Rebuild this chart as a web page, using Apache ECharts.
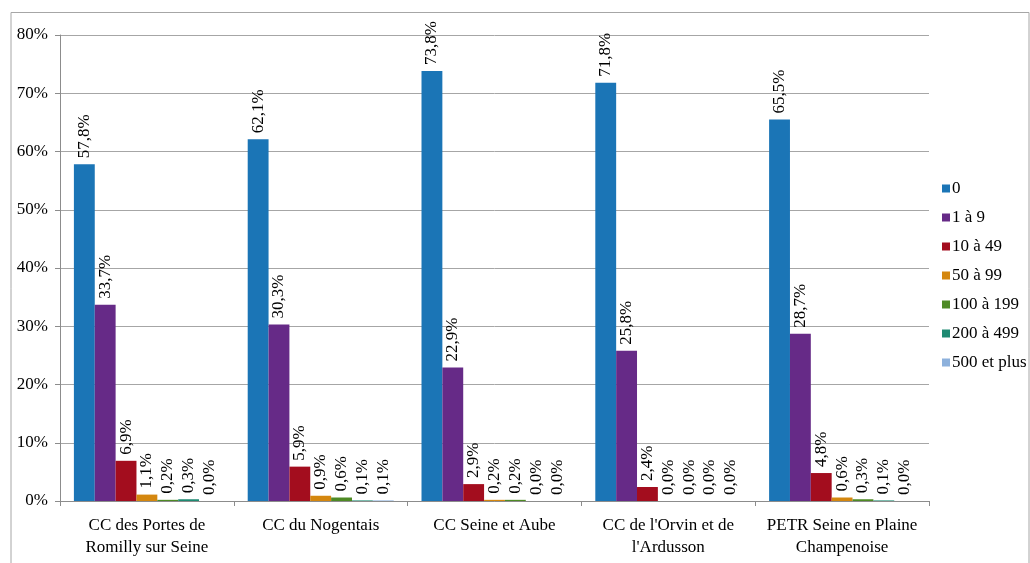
<!DOCTYPE html>
<html>
<head>
<meta charset="utf-8">
<script src="https://cdn.jsdelivr.net/npm/echarts@6/dist/echarts.min.js"></script>
<style>html,body{margin:0;padding:0;background:#fff;}#c{width:1030px;height:563px;}</style>
</head>
<body>
<div id="c"></div>
<script>
const categories = ["CC des Portes de\nRomilly sur Seine", "CC du Nogentais", "CC Seine et Aube", "CC de l'Orvin et de\nl'Ardusson", "PETR Seine en Plaine\nChampenoise"];
const seriesNames = ["0", "1 à 9", "10 à 49", "50 à 99", "100 à 199", "200 à 499", "500 et plus"];
const s0 = [57.8, 62.1, 73.8, 71.8, 65.5];
const s1to9 = [33.7, 30.3, 22.9, 25.8, 28.7];
const s10to49 = [6.9, 5.9, 2.9, 2.4, 4.8];
const s50to99 = [1.1, 0.9, 0.2, 0.0, 0.6];
const s100to199 = [0.2, 0.6, 0.2, 0.0, 0.3];
const s200to499 = [0.3, 0.1, 0.0, 0.0, 0.1];
const s500plus = [0.0, 0.1, 0.0, 0.0, 0.0];
const yTicks = [0, 10, 20, 30, 40, 50, 60, 70, 80];

const seriesValues = [s0, s1to9, s10to49, s50to99, s100to199, s200to499, s500plus];
const colors = ['#1B75B6', '#662A87', '#A30D1E', '#D4870F', '#4E8A25', '#1E8A72', '#8DB1DC'];
const font = 'Liberation Serif';

const chart = echarts.init(document.getElementById('c'), null, {renderer: 'canvas'});
chart.setOption({
  animation: false,
  color: colors,
  textStyle: {fontFamily: font, color: '#000'},
  graphic: [{
    type: 'polyline',
    shape: {points: [[11, 600], [11, 12.5], [1029, 12.5], [1029, 600]]},
    style: {stroke: '#a6a6a6', lineWidth: 1, fill: null},
    silent: true
  }],
  grid: {left: 60, right: 101, top: 35, bottom: 62, containLabel: false},
  legend: {
    orient: 'vertical',
    left: 937,
    top: 175,
    itemWidth: 8,
    itemHeight: 8,
    itemGap: 12,
    icon: 'rect',
    textStyle: {fontFamily: font, fontSize: 17, color: '#000', padding: [0, 0, 0, -3]},
    data: seriesNames
  },
  xAxis: {
    type: 'category',
    data: categories,
    axisLine: {lineStyle: {color: '#8c8c8c', width: 1}},
    axisTick: {show: true, length: 5, lineStyle: {color: '#8c8c8c'}, alignWithLabel: false},
    axisLabel: {fontFamily: font, fontSize: 17, color: '#000', lineHeight: 22, margin: 14, interval: 0}
  },
  yAxis: {
    type: 'value',
    min: yTicks[0],
    max: yTicks[yTicks.length - 1],
    interval: 10,
    axisLine: {show: true, lineStyle: {color: '#8c8c8c'}},
    axisTick: {show: true, length: 5, lineStyle: {color: '#8c8c8c'}},
    splitLine: {lineStyle: {color: '#a6a6a6', width: 1}},
    axisLabel: {fontFamily: font, fontSize: 17, color: '#000', margin: 12, formatter: v => v + '%'}
  },
  series: seriesNames.map((name, i) => ({
    name: name,
    type: 'bar',
    data: seriesValues[i],
    barGap: '0%',
    barCategoryGap: '16%',
    itemStyle: {color: colors[i]},
    label: {
      show: true,
      position: 'top',
      rotate: 90,
      align: 'left',
      verticalAlign: 'middle',
      distance: 6,
      fontFamily: font,
      fontSize: 17,
      color: '#000',
      formatter: p => p.value.toFixed(1).replace('.', ',') + '%'
    }
  }))
});
</script>
</body>
</html>
